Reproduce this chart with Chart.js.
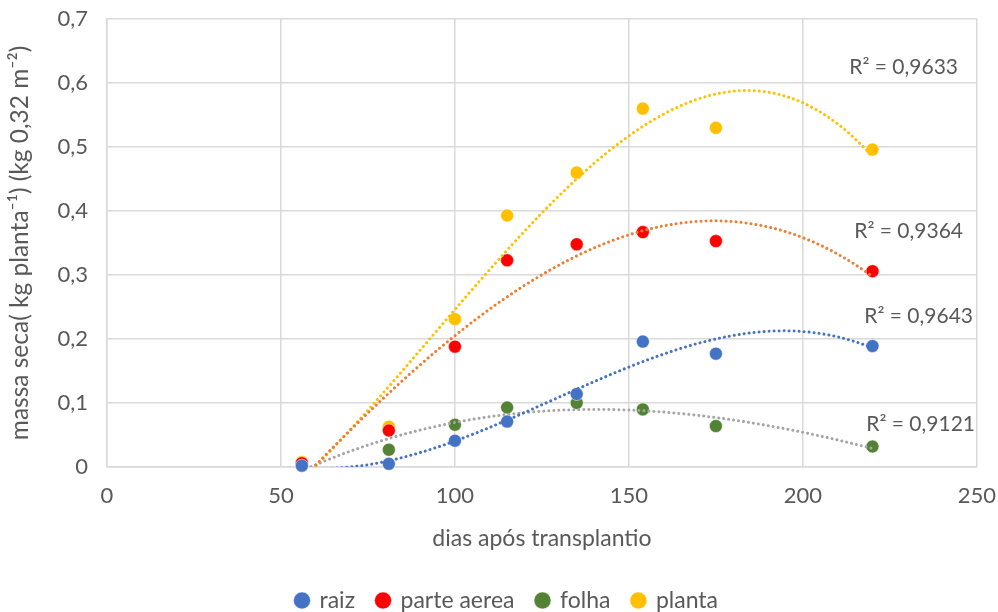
<!DOCTYPE html>
<html>
<head>
<meta charset="utf-8">
<title>massa seca</title>
<script src="https://cdn.jsdelivr.net/npm/chart.js@4.4.0/dist/chart.umd.min.js"></script>
<style>
  body { margin: 0; background: #fff; }
  #caixa { width: 998px; height: 612px; }
</style>
</head>
<body>
<div id="caixa"><canvas id="myChart"></canvas></div>
<script>
// dados
const dias = [56, 81, 100, 115, 135, 154, 175, 220];
const raiz = [0.002, 0.005, 0.041, 0.071, 0.114, 0.196, 0.177, 0.189];
const parteAerea = [0.006, 0.057, 0.188, 0.323, 0.348, 0.367, 0.353, 0.306];
const folha = [0.002, 0.027, 0.066, 0.093, 0.100, 0.090, 0.064, 0.032];
const planta = [0.008, 0.063, 0.231, 0.393, 0.460, 0.560, 0.530, 0.496];
const nomes = ['raiz', 'parte aerea', 'folha', 'planta'];
const r2 = ['0,9643', '0,9364', '0,9121', '0,9633'];
const xTicks = [0, 50, 100, 150, 200, 250];
const yTicks = [0, 0.1, 0.2, 0.3, 0.4, 0.5, 0.6, 0.7];

const corPonto = ['#4472C4', '#FF0000', '#548235', '#FFC000'];
const corLinha = ['#4472C4', '#ED7D31', '#A5A5A5', '#FFC000'];
const fonte = 'Lato, "Open Sans", sans-serif';
const cinza = '#595959';

// linha de tendencia polinomial (ordem 3), minimos quadrados como no excel
function ajuste(xs, ys){
  var A = [], b = [];
  for (var i = 0; i < 4; i++){ A.push([0,0,0,0]); b.push(0); }
  for (var k = 0; k < xs.length; k++){
    var t = (xs[k] - 140) / 100;
    for (var i = 0; i < 4; i++){
      for (var j = 0; j < 4; j++){ A[i][j] += Math.pow(t, i + j); }
      b[i] += ys[k] * Math.pow(t, i);
    }
  }
  // gauss
  for (var c = 0; c < 4; c++){
    for (var r = c + 1; r < 4; r++){
      var f = A[r][c] / A[c][c];
      for (var j = c; j < 4; j++){ A[r][j] -= f * A[c][j]; }
      b[r] -= f * b[c];
    }
  }
  var coef = [0,0,0,0];
  for (var r = 3; r >= 0; r--){
    var s = b[r];
    for (var j = r + 1; j < 4; j++){ s -= A[r][j] * coef[j]; }
    coef[r] = s / A[r][r];
  }
  return coef;
}

function curva(xs, ys){
  var coef = ajuste(xs, ys);
  var pts = [];
  for (var x = xs[0]; x <= xs[xs.length - 1]; x += 1){
    var t = (x - 140) / 100;
    pts.push({ x: x, y: coef[0] + coef[1]*t + coef[2]*t*t + coef[3]*t*t*t });
  }
  return pts;
}

var series = [raiz, parteAerea, folha, planta];
var datasets = [];
for (var s = 0; s < series.length; s++){
  datasets.push({
    label: nomes[s],
    data: dias.map(function(d, i){ return { x: d, y: series[s][i] }; }),
    backgroundColor: corPonto[s],
    borderColor: corPonto[s],
    pointRadius: 6.5,
    pointBorderWidth: 0.5,
    pointBorderColor: '#ffffff',
    showLine: false,
    clip: false,
    order: 2
  });
}
for (var s = 0; s < series.length; s++){
  datasets.push({
    label: 'tendencia',
    tendencia: true,
    data: curva(dias, series[s]),
    borderColor: corLinha[s],
    borderWidth: 3,
    borderDash: [0.01, 5],
    borderCapStyle: 'round',
    pointRadius: 0,
    showLine: true,
    fill: false,
    clip: 0,
    order: 1
  });
}

// textos R2
const rotulosR2 = {
  id: 'rotulosR2',
  afterDatasetsDraw(chart){
    var ctx = chart.ctx;
    var pos = [[973, 316], [963, 231], [975, 424], [958, 67]];
    ctx.save();
    ctx.font = '21px ' + fonte;
    ctx.fillStyle = cinza;
    ctx.textAlign = 'right';
    ctx.textBaseline = 'middle';
    for (var i = 0; i < r2.length; i++){
      ctx.fillText('R\u00b2 = ' + r2[i], pos[i][0], pos[i][1]);
    }
    ctx.restore();
  }
};

const ctx = document.getElementById('myChart');
new Chart(ctx, {
  type: 'scatter',
  data: { datasets: datasets },
  plugins: [rotulosR2],
  options: {
    responsive: true,
    maintainAspectRatio: false,
    animation: false,
    layout: { padding: { top: 19, right: 0, left: 16, bottom: -10 } },
    plugins: {
      tooltip: { enabled: false },
      legend: {
        position: 'bottom',
        labels: {
          usePointStyle: true,
          pointStyle: 'circle',
          boxWidth: 12,
          boxHeight: 12,
          padding: 22,
          color: cinza,
          font: { family: fonte, size: 23 },
          filter: function(item, data){ return !data.datasets[item.datasetIndex].tendencia; }
        }
      }
    },
    scales: {
      x: {
        type: 'linear',
        min: 0,
        max: 250,
        afterBuildTicks: function(scale){ scale.ticks = xTicks.map(function(v){ return { value: v }; }); },
        afterFit: function(scale){ scale.height = 100; },
        grid: { color: '#D9D9D9', lineWidth: 1.5, drawTicks: true, tickLength: 14, tickColor: 'rgba(0,0,0,0)' },
        border: { color: '#D9D9D9', width: 1.5 },
        ticks: { color: cinza, padding: 2, font: { family: fonte, size: 22 } },
        title: { display: true, text: 'dias após transplantio', color: cinza, padding: { top: 0, bottom: 15 }, font: { family: fonte, size: 23 } }
      },
      y: {
        type: 'linear',
        min: 0,
        max: 0.7,
        afterBuildTicks: function(scale){ scale.ticks = yTicks.map(function(v){ return { value: v }; }); },
        afterFit: function(scale){ scale.width = 91; },
        grid: { color: '#D9D9D9', lineWidth: 1.5, drawTicks: true, tickLength: 16, tickColor: 'rgba(0,0,0,0)' },
        border: { color: '#D9D9D9', width: 1.5 },
        ticks: {
          color: cinza,
          padding: 3,
          font: { family: fonte, size: 22 },
          callback: function(v){ return v === 0 ? '0' : v.toFixed(1).replace('.', ','); }
        },
        title: { display: true, text: 'massa seca( kg planta⁻¹) (kg 0,32 m⁻²)', color: cinza, padding: { top: -11, bottom: 0 }, font: { family: fonte, size: 24.5 } }
      }
    }
  }
});
</script>
</body>
</html>
